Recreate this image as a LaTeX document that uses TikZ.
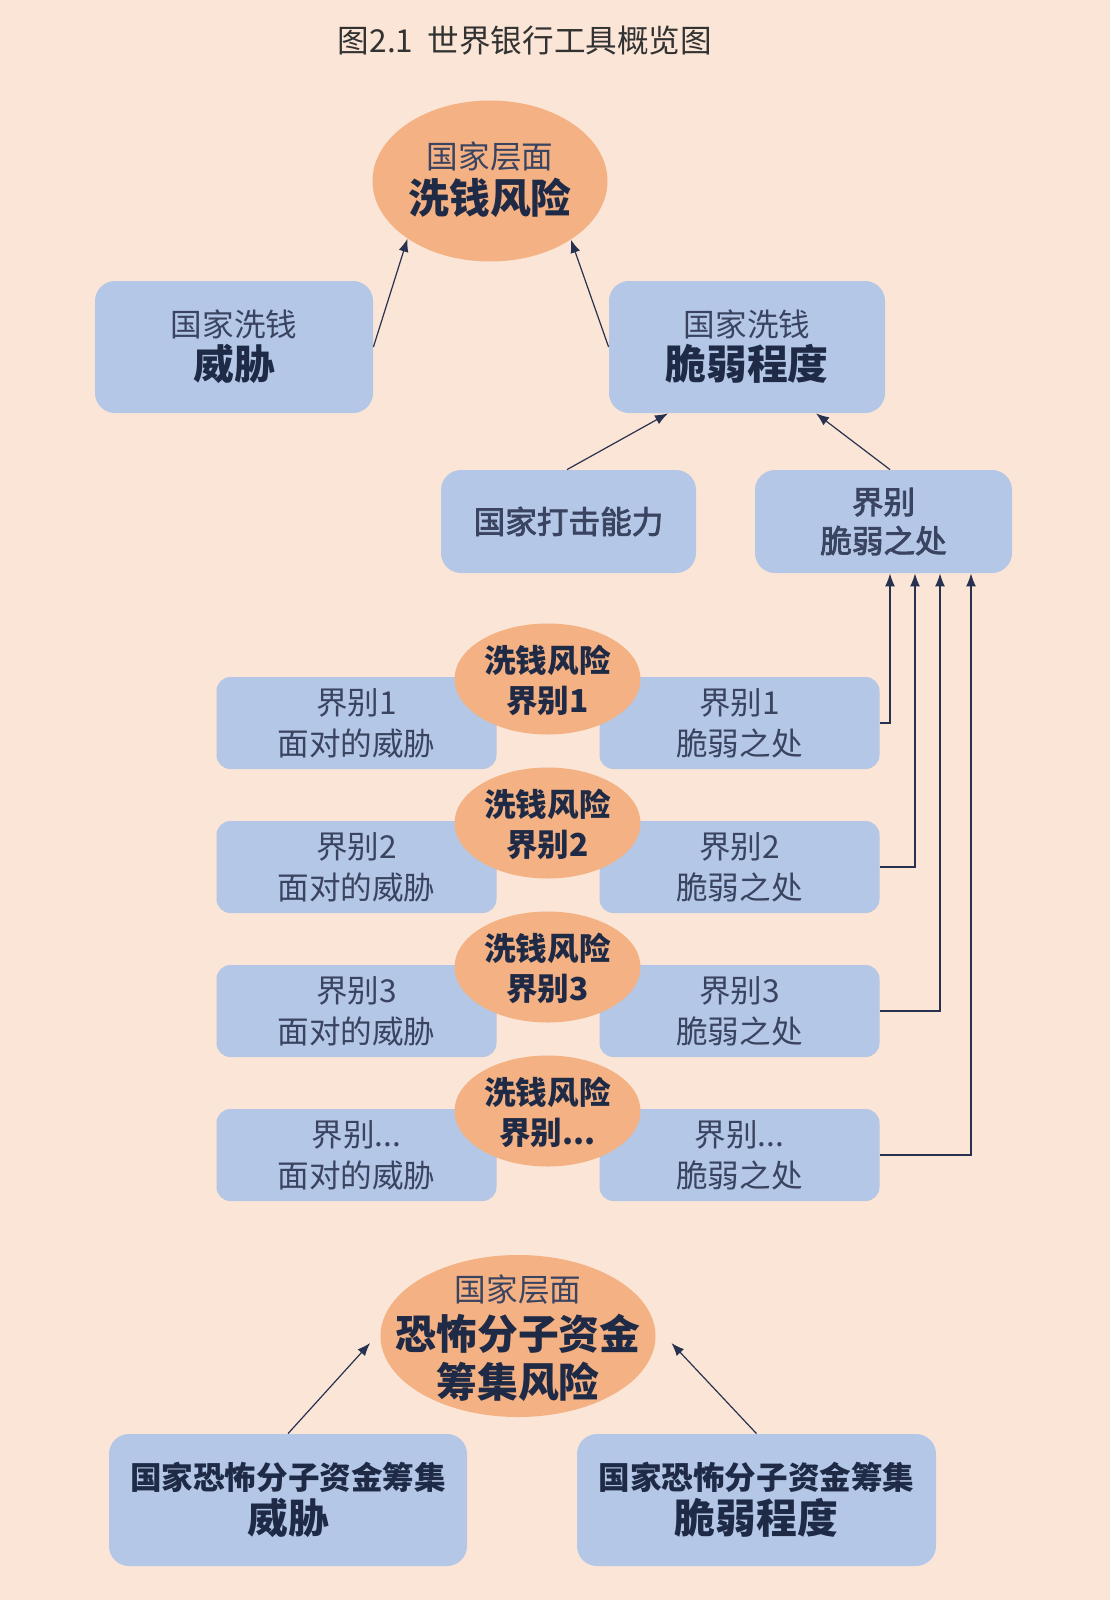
\documentclass[tikz,border=0pt]{standalone}
\usepackage{fontspec}
\setmainfont{Noto Sans CJK SC}
\newfontfamily\medfont[FakeBold=2.5]{Noto Sans CJK SC}
\usetikzlibrary{arrows.meta,shapes.geometric,calc}
\definecolor{bgpeach}{RGB}{251,229,214}
\definecolor{boxblue}{RGB}{180,199,231}
\definecolor{ovalorange}{RGB}{244,177,131}
\definecolor{txtreg}{RGB}{58,68,96}
\definecolor{txtbold}{RGB}{30,42,70}
\definecolor{linecol}{RGB}{40,50,80}
\definecolor{titlecol}{RGB}{50,50,50}
\pgfdeclarelayer{back}
\pgfsetlayers{back,main}
\newcommand{\bigb}{\fontsize{20.4}{22}\selectfont\bfseries\color{txtbold}}
\newcommand{\threedots}{...}
\begin{document}
\begin{tikzpicture}[x=0.5pt,y=-0.5pt,
  bigbox/.style={fill=boxblue, rounded corners=10pt, align=center, inner sep=0pt,
    text=txtreg, font=\fontsize{15.8}{21.5}\selectfont},
  rowbox/.style={fill=boxblue, rounded corners=7pt, align=center, inner sep=0pt,
    minimum width=140pt, minimum height=46pt, text=txtreg,
    font=\fontsize{15.8}{20.5}\selectfont},
  oval/.style={ellipse, fill=ovalorange, inner sep=0pt},
  ovaltext/.style={align=center, inner sep=0pt, text=txtreg},
  rowoval/.style={oval, minimum width=93pt, minimum height=55.5pt},
  link/.style={draw=linecol, line width=0.6pt},
  arr/.style={link, -{Latex[length=6.5pt,width=5pt]}}]
\fill[bgpeach] (0,0) rectangle (1110,1600);
\useasboundingbox (0,0) rectangle (1110,1600);
\node[text=titlecol, font=\fontsize{15.8}{18}\selectfont] (title) at (525,41) {图2.1\ \ 世界银行工具概览图};

% top part
\node[oval, minimum width=117.5pt, minimum height=80.5pt] (topell) at (490,181) {};
\node[ovaltext, font=\fontsize{15.8}{22.5}\selectfont] (topelltxt) at (490,180)
  {国家层面\\\fontsize{20.4}{22.5}\selectfont\bfseries\color{txtbold}洗钱风险};
\node[bigbox, minimum width=139pt, minimum height=66pt] (threat) at (234,347)
  {国家洗钱\\\bigb 威胁};
\node[bigbox, minimum width=138pt, minimum height=66pt] (vuln) at (747,347)
  {国家洗钱\\\bigb 脆弱程度};
\node[bigbox, minimum width=127.5pt, minimum height=51.5pt] (cap) at (568.5,521.5)
  {\medfont 国家打击能力};
\node[bigbox, minimum width=128.5pt, minimum height=51.5pt,
  font=\fontsize{15.8}{19.5}\selectfont\medfont] (ident) at (883.5,521.5)
  {界别\\脆弱之处};

% rows
\foreach \i/\lab/\yy in {1/{1}/723, 2/{2}/867, 3/{3}/1011, 4/\threedots/1155}{
  \node[rowbox] (r\i L) at (356.5,\yy) {\raisebox{-3pt}{界别\lab}\\\raisebox{-3pt}{面对的威胁}};
  \node[rowbox] (r\i R) at (739.5,\yy) {\raisebox{-3pt}{界别\lab}\\\raisebox{-3pt}{脆弱之处}};
  \node[rowoval] (r\i O) at (547.5,\yy-44) {};
  \node[ovaltext, text=txtbold, font=\fontsize{15.8}{20}\selectfont\bfseries]
    (r\i T) at (547.5,\yy-43) {洗钱风险\\界别\lab};
}

% bottom part
\node[oval, minimum width=137.5pt, minimum height=81pt] (bell) at (518,1336) {};
\node[ovaltext, font=\fontsize{15.8}{24}\selectfont] (belltxt) at (518,1338)
  {国家层面\\\fontsize{20.4}{24}\selectfont\bfseries\color{txtbold}恐怖分子资金\\
   \fontsize{20.4}{24}\selectfont\bfseries\color{txtbold}筹集风险};
\node[bigbox, minimum width=179pt, minimum height=66pt, text=txtbold,
  font=\fontsize{15.8}{22}\selectfont\bfseries] (lb) at (288,1500)
  {国家恐怖分子资金筹集\\\bigb 威胁};
\node[bigbox, minimum width=179.5pt, minimum height=66pt, text=txtbold,
  font=\fontsize{15.8}{22}\selectfont\bfseries] (rb) at (756.5,1500)
  {国家恐怖分子资金筹集\\\bigb 脆弱程度};

% connectors
\draw[arr] (threat.east) -- (topell.215);
\draw[arr] (vuln.west) -- (topell.-36);
\draw[arr] ([xshift=-0.75pt]cap.north) -- ([xshift=-39.5pt]vuln.south);
\draw[arr] ([xshift=3.25pt]ident.north) -- ([xshift=34.5pt]vuln.south);

\coordinate (v1) at (235,0);
\coordinate (v2) at (190,0);
\coordinate (v3) at (146,0);
\coordinate (v4) at (105,0);
\coordinate (w1) at (890,0);
\coordinate (w2) at (915,0);
\coordinate (w3) at (940,0);
\coordinate (w4) at (971,0);
\begin{pgfonlayer}{back}
\draw[link] (v1 |- threat.south) -- (v1 |- r1L.north);
\draw[link] (v2 |- threat.south) -- (v2 |- r2L.west) -- (r2L.west);
\draw[link] (v3 |- threat.south) -- (v3 |- r3L.west) -- (r3L.west);
\draw[link] (v4 |- threat.south) -- (v4 |- r4L.west) -- (r4L.west);
\end{pgfonlayer}
\draw[arr] (r1R.east) -| (w1 |- ident.south);
\draw[arr] (r2R.east) -| (w2 |- ident.south);
\draw[arr] (r3R.east) -| (w3 |- ident.south);
\draw[arr] (r4R.east) -| (w4 |- ident.south);

\draw[arr] (lb.north) -- ([xshift=-5pt,yshift=-3.5pt]bell.west);
\draw[arr] (rb.north) -- ([xshift=7.75pt,yshift=-3.5pt]bell.east);
\end{tikzpicture}
\end{document}
